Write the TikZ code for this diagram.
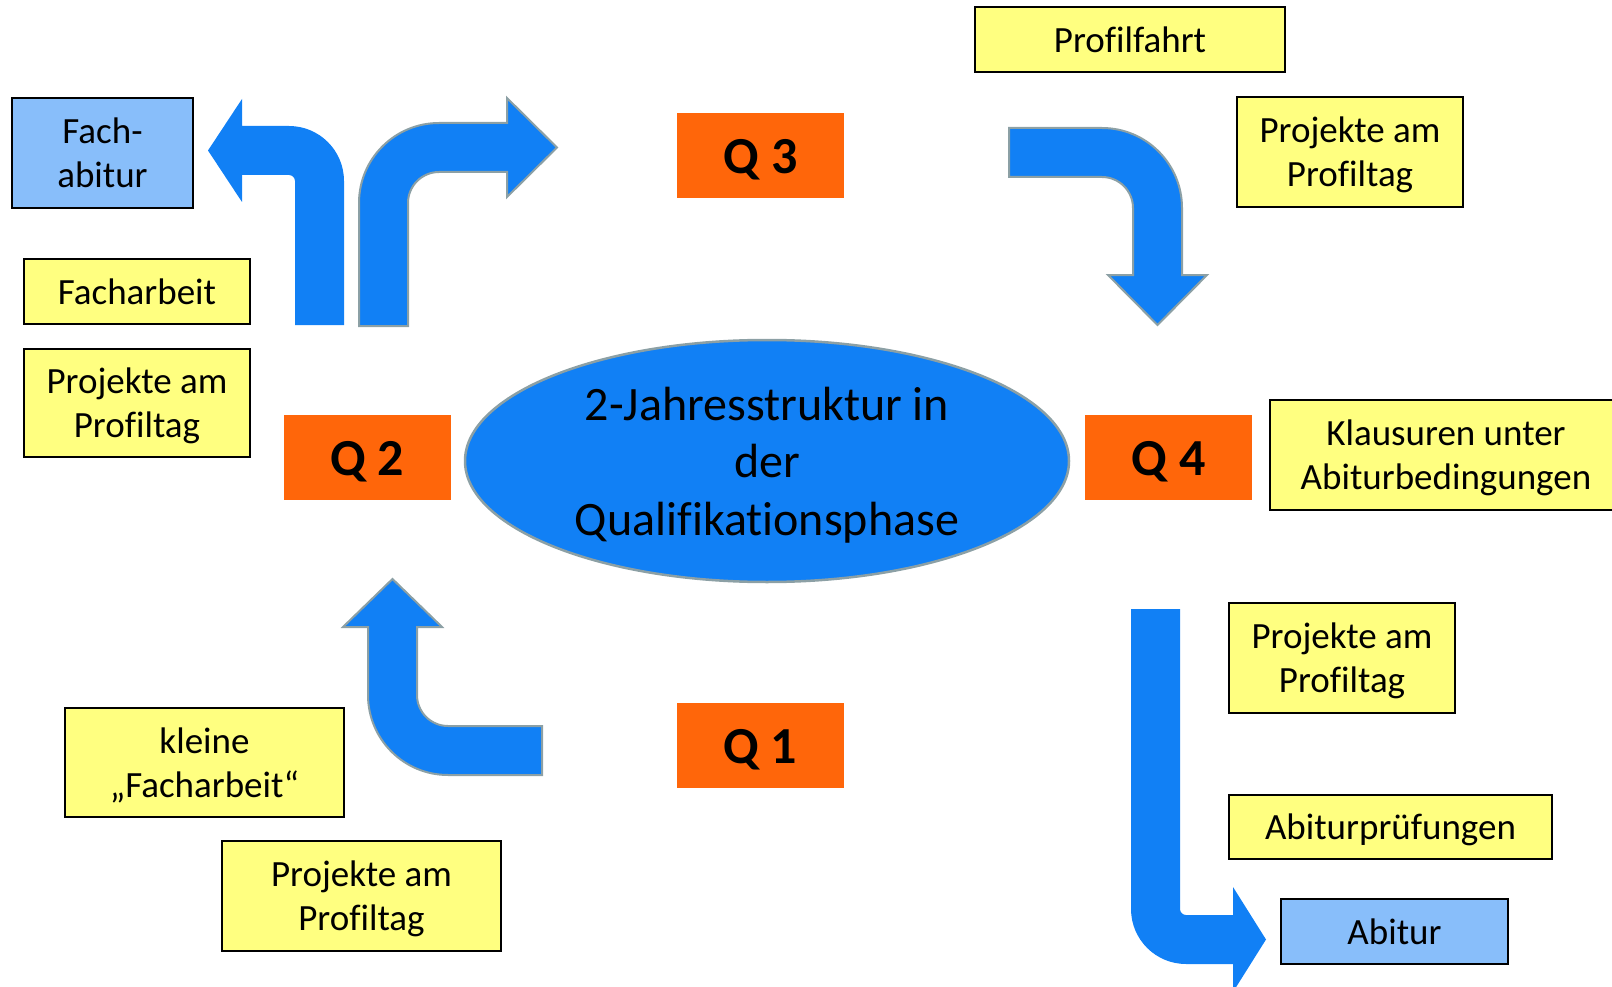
\documentclass[tikz,border=0pt]{standalone}
\usepackage{fontspec}
\setmainfont{Carlito}[Ligatures={TeX,NoCommon}]
\usetikzlibrary{shapes.geometric}
\definecolor{arrowblue}{RGB}{17,128,245}
\definecolor{edgegray}{RGB}{140,160,165}
\definecolor{boxyellow}{RGB}{255,255,128}
\definecolor{boxblue}{RGB}{136,190,250}
\definecolor{qorange}{RGB}{255,102,10}
% uniform line strut so that text is centred by line metrics, not by glyph extents
\newcommand\pst{\rule[-0.2em]{0pt}{1.1em}}
\tikzset{
  infobox/.style={draw=black, line width=2pt, fill=boxyellow, inner sep=0pt, align=center,
    font=\fontsize{37}{44}\selectfont},
  goalbox/.style={infobox, fill=boxblue},
  qbox/.style={fill=qorange, inner sep=0pt, minimum width=167pt, minimum height=85pt,
    font=\fontsize{52}{62}\selectfont\bfseries},
  hub/.style={ellipse, draw=edgegray, line width=2.5pt, fill=arrowblue, inner sep=0pt,
    minimum width=604pt, minimum height=242pt, align=center,
    font=\fontsize{48}{57.5}\selectfont},
  plainarrow/.style={fill=arrowblue},
  edgedarrow/.style={fill=arrowblue, draw=edgegray, line width=2pt, line join=miter},
}
\begin{document}
\begin{tikzpicture}[x=1pt, y=-1pt]
\useasboundingbox (0,0) rectangle (1612,987);

% block arrows
% Q2 -> Fachabitur (no outline)
\path[plainarrow] (295,325) -- (295,181) .. controls (295,177.7) and (292.3,175) .. (289,175)
  -- (242,175) -- (242,202) -- (208,150.5) -- (242,99) -- (242,126) -- (289,126)
  .. controls (319.4,126) and (344,150.6) .. (344,181) -- (344,325) -- cycle;
% Q2 -> Q3
\path[edgedarrow] (359,326) -- (359,203) .. controls (359,158.8) and (394.8,123) .. (439,123)
  -- (507,123) -- (507,98) -- (557,147.5) -- (507,197) -- (507,172) -- (439,172)
  .. controls (421.9,172) and (408,185.9) .. (408,203) -- (408,326) -- cycle;
% Q3 -> Q4
\path[edgedarrow] (1009,128) -- (1102,128) .. controls (1146.2,128) and (1182,163.8) .. (1182,208)
  -- (1182,275) -- (1207,275) -- (1157.5,325) -- (1108,275) -- (1133,275) -- (1133,208)
  .. controls (1133,190.9) and (1119.1,177) .. (1102,177) -- (1009,177) -- cycle;
% Q1 -> Q2
\path[edgedarrow] (542,726) -- (448,726) .. controls (430.9,726) and (417,712.1) .. (417,695)
  -- (417,627) -- (442,627) -- (392.5,579) -- (343,627) -- (368,627) -- (368,695)
  .. controls (368,739.2) and (403.8,775) .. (448,775) -- (542,775) -- cycle;
% Q4 -> Abitur (no outline)
\path[plainarrow] (1131,609) -- (1180,609) -- (1180,909) .. controls (1180,912.3) and (1182.7,915) .. (1186,915)
  -- (1233,915) -- (1233,887) -- (1266,939.5) -- (1233,992) -- (1233,964) -- (1186,964)
  .. controls (1155.6,964) and (1131,939.4) .. (1131,909) -- cycle;

% centre
\node[hub] (hub) at (767,461) {\pst 2-Jahresstruktur in\\\pst der\\\pst Qualifikationsphase};

% quarters
\node[qbox] (q1) at (760,745) {\pst Q 1};
\node[qbox] (q2) at (367,457.5) {\pst Q 2};
\node[qbox] (q3) at (760.5,155.5) {\pst Q 3};
\node[qbox] (q4) at (1168.5,457.5) {\pst Q 4};

% boxes
\node[infobox, minimum width=310pt, minimum height=65pt] (profilfahrt) at (1130,39.5) {\pst Profilfahrt};
\node[infobox, minimum width=226pt, minimum height=110pt] (projTR) at (1350,152) {\pst Projekte am\\\pst Profiltag};
\node[goalbox, minimum width=181pt, minimum height=110pt] (fachabi) at (102.5,153) {\pst Fach-\\\pst abitur};
\node[infobox, minimum width=226pt, minimum height=65pt] (facharbeit) at (137,291.5) {\pst Facharbeit};
\node[infobox, minimum width=226pt, minimum height=108pt] (projL) at (137,403) {\pst Projekte am\\\pst Profiltag};
\node[infobox, minimum width=352pt, minimum height=110pt] (klausuren) at (1446,455) {\pst Klausuren unter\\\pst Abiturbedingungen};
\node[infobox, minimum width=226pt, minimum height=110pt] (projR) at (1342,658) {\pst Projekte am\\\pst Profiltag};
\node[infobox, minimum width=323pt, minimum height=64pt] (abipr) at (1390.5,827) {\pst Abiturprüfungen};
\node[goalbox, minimum width=227pt, minimum height=65pt] (abitur) at (1394.5,931.5) {\pst Abitur};
\node[infobox, minimum width=279pt, minimum height=109pt] (kleine) at (204.5,762.5) {\pst kleine\\\pst „Facharbeit“};
\node[infobox, minimum width=279pt, minimum height=110pt] (projB) at (361.5,896) {\pst Projekte am\\\pst Profiltag};
\end{tikzpicture}
\end{document}
